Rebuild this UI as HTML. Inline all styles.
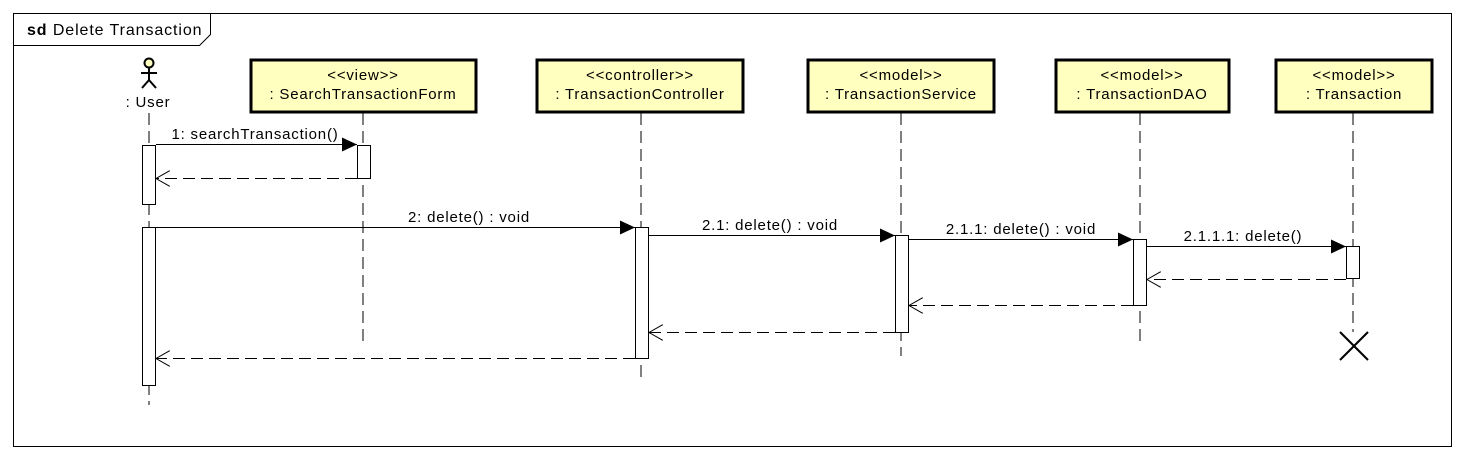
<!DOCTYPE html>
<html><head><meta charset="utf-8"><style>
html,body{margin:0;padding:0;background:#fff;}
svg{display:block;}
text{font-family:"Liberation Sans",sans-serif;font-size:15px;letter-spacing:0.8px;fill:#000;}
</style></head><body>
<svg width="1464" height="460" viewBox="0 0 1464 460" xmlns="http://www.w3.org/2000/svg">
<defs>
<marker id="fa" markerWidth="16" markerHeight="14" refX="15" refY="7" orient="auto" markerUnits="userSpaceOnUse">
<path d="M0,0 L15,7 L0,14 Z" fill="#000"/></marker>
<marker id="oa" markerWidth="16" markerHeight="16" refX="14" refY="8" orient="auto" markerUnits="userSpaceOnUse">
<path d="M0,0 L14,8 L0,16" fill="none" stroke="#000" stroke-width="1"/></marker>
</defs>
<rect x="13.5" y="13.5" width="1438" height="433" fill="#fff" stroke="#000" stroke-width="1"/>
<path d="M13.5,45.5 H199.5 L210.5,34.5 V13.5" fill="none" stroke="#000"/>
<text x="27" y="35" style="font-size:16px;letter-spacing:0.9px"><tspan font-weight="bold">sd</tspan> Delete Transaction</text>

<g stroke="#000" stroke-width="1" stroke-dasharray="12,6" fill="none">
<line x1="149" y1="113" x2="149" y2="405"/>
<line x1="363" y1="113" x2="363" y2="343"/>
<line x1="641" y1="113" x2="641" y2="380"/>
<line x1="901" y1="113" x2="901" y2="356"/>
<line x1="1140" y1="113" x2="1140" y2="343"/>
<line x1="1353" y1="113" x2="1353" y2="332"/>
</g>

<g stroke="#000" stroke-width="2" fill="none">
<circle cx="149" cy="63" r="4.5" fill="#ffffc0"/>
<line x1="149" y1="68" x2="149" y2="81"/>
<line x1="141" y1="73" x2="157" y2="73"/>
<line x1="149" y1="80" x2="142" y2="88"/>
<line x1="149" y1="80" x2="156" y2="88"/>
</g>
<text x="148" y="107" text-anchor="middle">: User</text>

<g fill="#ffffc0" stroke="#000" stroke-width="3">
<rect x="251" y="60" width="225" height="52"/>
<rect x="537" y="60" width="206" height="52"/>
<rect x="808" y="60" width="186" height="52"/>
<rect x="1056" y="60" width="173" height="52"/>
<rect x="1276" y="60" width="156" height="52"/>
</g>
<g text-anchor="middle">
<text x="363" y="80">&lt;&lt;view&gt;&gt;</text><text x="363" y="99">: SearchTransactionForm</text>
<text x="640" y="80">&lt;&lt;controller&gt;&gt;</text><text x="640" y="99">: TransactionController</text>
<text x="901" y="80">&lt;&lt;model&gt;&gt;</text><text x="901" y="99">: TransactionService</text>
<text x="1142" y="80">&lt;&lt;model&gt;&gt;</text><text x="1142" y="99">: TransactionDAO</text>
<text x="1354" y="80">&lt;&lt;model&gt;&gt;</text><text x="1354" y="99">: Transaction</text>
</g>

<g fill="#fff" stroke="#000" stroke-width="1">
<rect x="142.5" y="145.5" width="13" height="59"/>
<rect x="142.5" y="227.5" width="13" height="158"/>
<rect x="357.5" y="145.5" width="13" height="33"/>
<rect x="635.5" y="227.5" width="13" height="131"/>
<rect x="895.5" y="235.5" width="13" height="97"/>
<rect x="1133.5" y="239.5" width="13" height="66"/>
<rect x="1346.5" y="246.5" width="13" height="32"/>
</g>

<g stroke="#000" stroke-width="1" fill="none">
<line x1="156" y1="144.5" x2="357" y2="144.5" marker-end="url(#fa)"/>
<line x1="156" y1="227.5" x2="635" y2="227.5" marker-end="url(#fa)"/>
<line x1="649" y1="235.5" x2="895" y2="235.5" marker-end="url(#fa)"/>
<line x1="909" y1="239.5" x2="1133" y2="239.5" marker-end="url(#fa)"/>
<line x1="1147" y1="246.5" x2="1346" y2="246.5" marker-end="url(#fa)"/>
</g>
<g stroke="#000" stroke-width="1" fill="none" stroke-dasharray="12,6">
<line x1="357" y1="178.5" x2="156" y2="178.5" marker-end="url(#oa)"/>
<line x1="1346" y1="279.5" x2="1147" y2="279.5" marker-end="url(#oa)"/>
<line x1="1133" y1="305.5" x2="909" y2="305.5" marker-end="url(#oa)"/>
<line x1="895" y1="332.5" x2="649" y2="332.5" marker-end="url(#oa)"/>
<line x1="635" y1="358.5" x2="156" y2="358.5" marker-end="url(#oa)"/>
</g>
<g text-anchor="middle">
<text x="255" y="139">1: searchTransaction()</text>
<text x="469" y="222">2: delete() : void</text>
<text x="770" y="230">2.1: delete() : void</text>
<text x="1021" y="234">2.1.1: delete() : void</text>
<text x="1243" y="241">2.1.1.1: delete()</text>
</g>

<g stroke="#000" stroke-width="2">
<line x1="1340" y1="332" x2="1368" y2="360"/>
<line x1="1368" y1="332" x2="1340" y2="360"/>
</g>
</svg>
</body></html>
